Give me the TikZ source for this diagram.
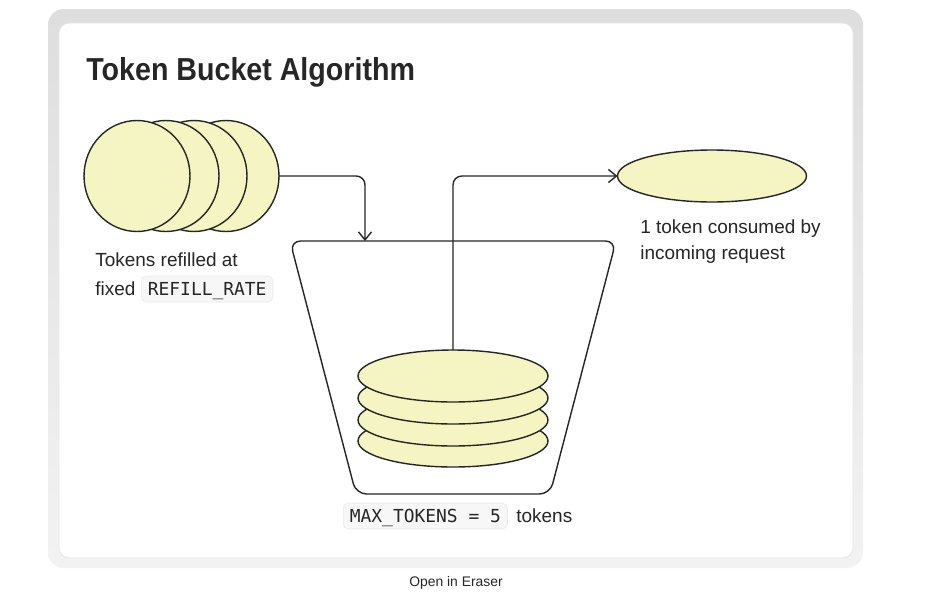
\documentclass[tikz,border=0pt]{standalone}
\usepackage{fontspec}
\setmainfont{Liberation Sans}
\setmonofont{DejaVu Sans Mono}
\newfontfamily\headfont[FakeStretch=0.9]{Liberation Sans}
\usetikzlibrary{arrows.meta,shapes.geometric}
\definecolor{token}{HTML}{F5F5C3}
\definecolor{ink}{HTML}{262626}
\definecolor{codebg}{HTML}{F7F7F7}
\definecolor{codeline}{HTML}{EBEBEB}

\begin{document}
\begin{tikzpicture}[x=0.02cm,y=-0.02cm,
 font=\fontsize{10.8}{13}\selectfont,text=ink,
 token/.style={ellipse,draw=ink,fill=token,line width=.8pt,inner sep=0pt,outer sep=0pt},
 coin/.style={token,minimum width=2.12cm,minimum height=2.22cm},
 disc/.style={token,minimum width=3.8cm,minimum height=1.04cm},
 code/.style={fill=codebg,draw=codeline,line width=.4pt,rounded corners=3pt,
   font=\ttfamily\fontsize{10.2}{12}\selectfont,inner xsep=.13cm,inner ysep=0pt,
   text height=.38cm,text depth=.14cm},
 label/.style={anchor=base west,inner sep=0pt},
 flow/.style={draw=ink,-{Straight Barb[length=1.6mm,width=2.6mm]},line width=.8pt,rounded corners=5pt}]
\path[use as bounding box] (0,0) rectangle (952,609);
% Card frame: grey shaded rim and white sheet.
\path[rounded corners=9pt,top color=black!13,bottom color=black!5] (48,9) rectangle (863,568);
\path[rounded corners=6pt,fill=white,draw=black!10,line width=.4pt] (59,23) rectangle (853,558);
\node[label,font=\headfont\bfseries\fontsize{18.1}{22}\selectfont] (title) at (86,80) {Token Bucket Algorithm};
% Refill tokens, back to front.
\node[coin] (r4) at (226,176) {};
\node[coin] (r3) at (194,176) {};
\node[coin] (r2) at (166,176) {};
\node[coin] (r1) at (137,176) {};
% Bucket outline.
\draw[ink,line width=.8pt,rounded corners=6pt] (290,241) -- (616,241) -- (550,494) -- (356,494) -- cycle;
\coordinate (inlet) at (365,241);
% Tokens held in the bucket, bottom first.
\node[disc] (s4) at (453,441) {};
\node[disc] (s3) at (453,420) {};
\node[disc] (s2) at (453,398) {};
\node[disc] (s1) at (453,376) {};
\node[disc,minimum width=3.78cm] (used) at (712,176) {};
\draw[flow] (r4.east) -| (inlet);
\draw[flow] (s1.north) |- (used.west);
% Labels.
\node[label] (refillA) at (95,266) {Tokens refilled at};
\node[label] (refillB) at (95,295) {fixed};
\node[code,anchor=base west] (rate) at (141,295) {REFILL\_RATE};
\node[label] (usedA) at (640,233) {1 token consumed by};
\node[label] (usedB) at (640,259) {incoming request};
\node[code,anchor=base west] (max) at (343,522) {MAX\_TOKENS = 5};
\node[label] (maxB) at (516,522) {tokens};
\node[font=\fontsize{7.9}{9}\selectfont,text=black!85] (open) at (456,583) {Open in Eraser};
\end{tikzpicture}
\end{document}
